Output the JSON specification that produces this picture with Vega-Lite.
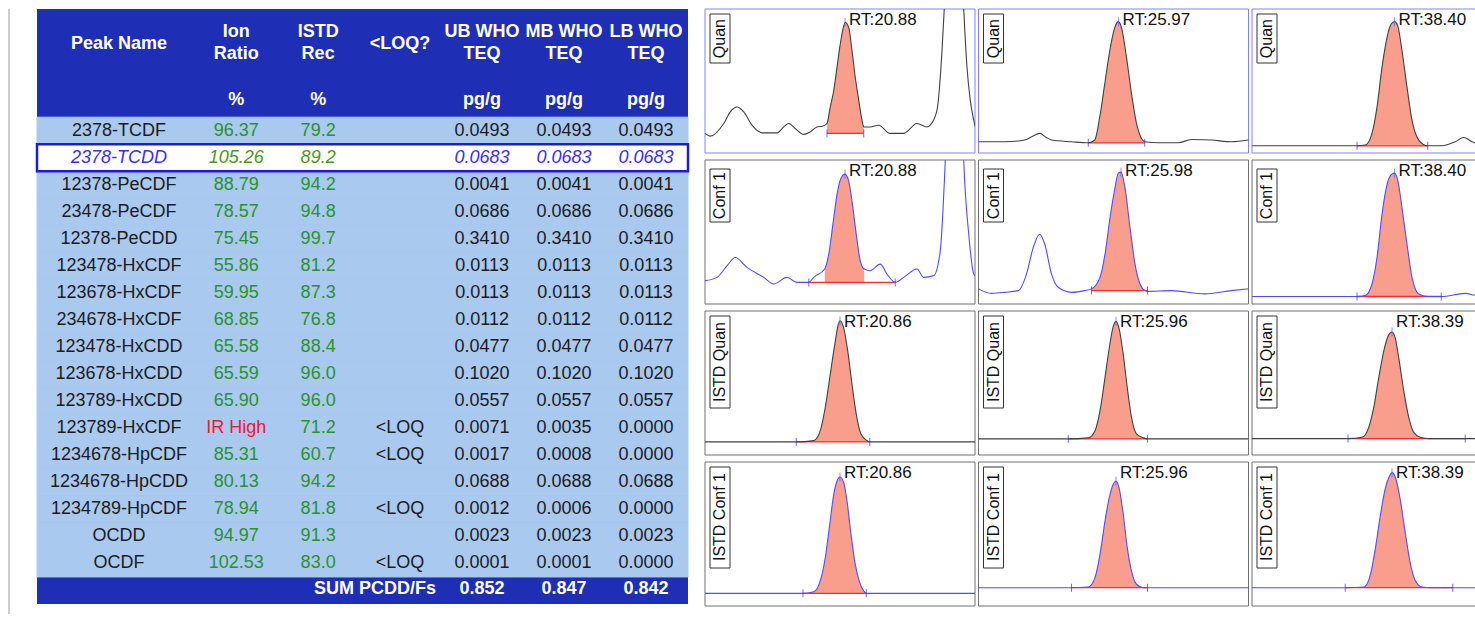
{
  "$schema": "https://vega.github.io/schema/vega-lite/v6.json",
  "background": "white",
  "padding": {"left": 8, "top": 8, "right": 0, "bottom": 0},
  "config": {"view": {"stroke": null}, "font": "Liberation Sans"},
  "datasets": {
    "rows": [
      {"name": "2378-TCDF", "ion": "96.37", "istd": "79.2", "loq": "", "ub": "0.0493", "mb": "0.0493", "lb": "0.0493"},
      {"name": "2378-TCDD", "ion": "105.26", "istd": "89.2", "loq": "", "ub": "0.0683", "mb": "0.0683", "lb": "0.0683"},
      {"name": "12378-PeCDF", "ion": "88.79", "istd": "94.2", "loq": "", "ub": "0.0041", "mb": "0.0041", "lb": "0.0041"},
      {"name": "23478-PeCDF", "ion": "78.57", "istd": "94.8", "loq": "", "ub": "0.0686", "mb": "0.0686", "lb": "0.0686"},
      {"name": "12378-PeCDD", "ion": "75.45", "istd": "99.7", "loq": "", "ub": "0.3410", "mb": "0.3410", "lb": "0.3410"},
      {"name": "123478-HxCDF", "ion": "55.86", "istd": "81.2", "loq": "", "ub": "0.0113", "mb": "0.0113", "lb": "0.0113"},
      {"name": "123678-HxCDF", "ion": "59.95", "istd": "87.3", "loq": "", "ub": "0.0113", "mb": "0.0113", "lb": "0.0113"},
      {"name": "234678-HxCDF", "ion": "68.85", "istd": "76.8", "loq": "", "ub": "0.0112", "mb": "0.0112", "lb": "0.0112"},
      {"name": "123478-HxCDD", "ion": "65.58", "istd": "88.4", "loq": "", "ub": "0.0477", "mb": "0.0477", "lb": "0.0477"},
      {"name": "123678-HxCDD", "ion": "65.59", "istd": "96.0", "loq": "", "ub": "0.1020", "mb": "0.1020", "lb": "0.1020"},
      {"name": "123789-HxCDD", "ion": "65.90", "istd": "96.0", "loq": "", "ub": "0.0557", "mb": "0.0557", "lb": "0.0557"},
      {"name": "123789-HxCDF", "ion": "IR High", "istd": "71.2", "loq": "<LOQ", "ub": "0.0071", "mb": "0.0035", "lb": "0.0000"},
      {"name": "1234678-HpCDF", "ion": "85.31", "istd": "60.7", "loq": "<LOQ", "ub": "0.0017", "mb": "0.0008", "lb": "0.0000"},
      {"name": "1234678-HpCDD", "ion": "80.13", "istd": "94.2", "loq": "", "ub": "0.0688", "mb": "0.0688", "lb": "0.0688"},
      {"name": "1234789-HpCDF", "ion": "78.94", "istd": "81.8", "loq": "<LOQ", "ub": "0.0012", "mb": "0.0006", "lb": "0.0000"},
      {"name": "OCDD", "ion": "94.97", "istd": "91.3", "loq": "", "ub": "0.0023", "mb": "0.0023", "lb": "0.0023"},
      {"name": "OCDF", "ion": "102.53", "istd": "83.0", "loq": "<LOQ", "ub": "0.0001", "mb": "0.0001", "lb": "0.0000"}
    ],
    "head": [
      {"c": "name", "row": "h2", "v": "Peak Name"},
      {"c": "ion", "row": "h2", "v": "Ion\nRatio"},
      {"c": "istd", "row": "h2", "v": "ISTD\nRec"},
      {"c": "loq", "row": "h2", "v": "<LOQ?"},
      {"c": "ub", "row": "h2", "v": "UB WHO\nTEQ"},
      {"c": "mb", "row": "h2", "v": "MB WHO\nTEQ"},
      {"c": "lb", "row": "h2", "v": "LB WHO\nTEQ"},
      {"c": "ion", "row": "h4", "v": "%"},
      {"c": "istd", "row": "h4", "v": "%"},
      {"c": "ub", "row": "h4", "v": "pg/g"},
      {"c": "mb", "row": "h4", "v": "pg/g"},
      {"c": "lb", "row": "h4", "v": "pg/g"},
      {"c": "loq", "row": "sum", "v": "SUM PCDD/Fs"},
      {"c": "ub", "row": "sum", "v": "0.852"},
      {"c": "mb", "row": "sum", "v": "0.847"},
      {"c": "lb", "row": "sum", "v": "0.842"}
    ],
    "chrom": [
      {"w":1,"tr":"Quan","t":20.32,"i":13.6},
      {"w":1,"tr":"Quan","t":20.341,"i":11.7},
      {"w":1,"tr":"Quan","t":20.395,"i":20.5},
      {"w":1,"tr":"Quan","t":20.421,"i":28.5},
      {"w":1,"tr":"Quan","t":20.448,"i":31.9},
      {"w":1,"tr":"Quan","t":20.475,"i":28.5},
      {"w":1,"tr":"Quan","t":20.508,"i":19.3},
      {"w":1,"tr":"Quan","t":20.548,"i":14},
      {"w":1,"tr":"Quan","t":20.608,"i":14},
      {"w":1,"tr":"Quan","t":20.635,"i":18.1},
      {"w":1,"tr":"Quan","t":20.655,"i":20.5},
      {"w":1,"tr":"Quan","t":20.681,"i":17},
      {"w":1,"tr":"Quan","t":20.715,"i":12.9},
      {"w":1,"tr":"Quan","t":20.741,"i":14.7},
      {"w":1,"tr":"Quan","t":20.768,"i":18.1},
      {"w":1,"tr":"Quan","t":20.79,"i":18.6},
      {"w":1,"tr":"Quan","t":20.808,"i":20.5,"b":13.6},
      {"w":1,"tr":"Quan","t":20.821,"i":31.9,"b":13.6},
      {"w":1,"tr":"Quan","t":20.835,"i":43.4,"b":13.6},
      {"w":1,"tr":"Quan","t":20.848,"i":59.5,"b":13.6},
      {"w":1,"tr":"Quan","t":20.861,"i":75.6,"b":13.6},
      {"w":1,"tr":"Quan","t":20.875,"i":88.3,"b":13.6},
      {"w":1,"tr":"Quan","t":20.881,"i":90.6,"b":13.6},
      {"w":1,"tr":"Quan","t":20.895,"i":87.1,"b":13.6},
      {"w":1,"tr":"Quan","t":20.908,"i":71,"b":13.6},
      {"w":1,"tr":"Quan","t":20.921,"i":52.6,"b":13.6},
      {"w":1,"tr":"Quan","t":20.935,"i":36.6,"b":13.6},
      {"w":1,"tr":"Quan","t":20.948,"i":22.8,"b":13.6},
      {"w":1,"tr":"Quan","t":20.955,"i":18.1,"b":13.6},
      {"w":1,"tr":"Quan","t":20.981,"i":18.1},
      {"w":1,"tr":"Quan","t":21.015,"i":19.3},
      {"w":1,"tr":"Quan","t":21.06,"i":13.6},
      {"w":1,"tr":"Quan","t":21.115,"i":13.6},
      {"w":1,"tr":"Quan","t":21.168,"i":20.5},
      {"w":1,"tr":"Quan","t":21.208,"i":18.1},
      {"w":1,"tr":"Quan","t":21.221,"i":19.3},
      {"w":1,"tr":"Quan","t":21.248,"i":29.7},
      {"w":1,"tr":"Quan","t":21.268,"i":71},
      {"w":1,"tr":"Quan","t":21.277,"i":100},
      {"w":1,"tr":"Quan","t":21.295,"i":180},
      {"w":1,"tr":"Quan","t":21.316,"i":250},
      {"w":1,"tr":"Quan","t":21.337,"i":180},
      {"w":1,"tr":"Quan","t":21.355,"i":100},
      {"w":1,"tr":"Quan","t":21.368,"i":59.5},
      {"w":1,"tr":"Quan","t":21.381,"i":36.6},
      {"w":1,"tr":"Quan","t":21.395,"i":22.8},
      {"w":1,"tr":"Quan","t":21.4,"i":18.6},

      {"w":2,"tr":"Quan","t":25.41,"i":7.8},
      {"w":2,"tr":"Quan","t":25.514,"i":7.8},
      {"w":2,"tr":"Quan","t":25.594,"i":9},
      {"w":2,"tr":"Quan","t":25.625,"i":11.5},
      {"w":2,"tr":"Quan","t":25.655,"i":13.6},
      {"w":2,"tr":"Quan","t":25.68,"i":11},
      {"w":2,"tr":"Quan","t":25.702,"i":9},
      {"w":2,"tr":"Quan","t":25.782,"i":7.8},
      {"w":2,"tr":"Quan","t":25.849,"i":7.1,"b":7.1},
      {"w":2,"tr":"Quan","t":25.875,"i":9,"b":7.1},
      {"w":2,"tr":"Quan","t":25.895,"i":25,"b":7.1},
      {"w":2,"tr":"Quan","t":25.915,"i":48,"b":7.1},
      {"w":2,"tr":"Quan","t":25.935,"i":71,"b":7.1},
      {"w":2,"tr":"Quan","t":25.955,"i":87.1,"b":7.1},
      {"w":2,"tr":"Quan","t":25.969,"i":91.2,"b":7.1},
      {"w":2,"tr":"Quan","t":25.982,"i":87.1,"b":7.1},
      {"w":2,"tr":"Quan","t":26.002,"i":66.4,"b":7.1},
      {"w":2,"tr":"Quan","t":26.022,"i":41.2,"b":7.1},
      {"w":2,"tr":"Quan","t":26.042,"i":20.5,"b":7.1},
      {"w":2,"tr":"Quan","t":26.062,"i":10.1,"b":7.1},
      {"w":2,"tr":"Quan","t":26.075,"i":7.8,"b":7.1},
      {"w":2,"tr":"Quan","t":26.129,"i":7.1},
      {"w":2,"tr":"Quan","t":26.209,"i":7.1},
      {"w":2,"tr":"Quan","t":26.262,"i":9.4},
      {"w":2,"tr":"Quan","t":26.342,"i":9},
      {"w":2,"tr":"Quan","t":26.422,"i":7.8},
      {"w":2,"tr":"Quan","t":26.49,"i":9},

      {"w":3,"tr":"Quan","t":37.83,"i":5},
      {"w":3,"tr":"Quan","t":38.0,"i":5},
      {"w":3,"tr":"Quan","t":38.25,"i":5,"b":5},
      {"w":3,"tr":"Quan","t":38.283,"i":5.5,"b":5},
      {"w":3,"tr":"Quan","t":38.31,"i":13.6,"b":5},
      {"w":3,"tr":"Quan","t":38.33,"i":31.9,"b":5},
      {"w":3,"tr":"Quan","t":38.35,"i":59.5,"b":5},
      {"w":3,"tr":"Quan","t":38.37,"i":80.2,"b":5},
      {"w":3,"tr":"Quan","t":38.386,"i":89.4,"b":5},
      {"w":3,"tr":"Quan","t":38.4,"i":91.2,"b":5},
      {"w":3,"tr":"Quan","t":38.413,"i":88.3,"b":5},
      {"w":3,"tr":"Quan","t":38.43,"i":71,"b":5},
      {"w":3,"tr":"Quan","t":38.45,"i":45.7,"b":5},
      {"w":3,"tr":"Quan","t":38.47,"i":22.8,"b":5},
      {"w":3,"tr":"Quan","t":38.497,"i":9,"b":5},
      {"w":3,"tr":"Quan","t":38.533,"i":5,"b":5},
      {"w":3,"tr":"Quan","t":38.59,"i":5},
      {"w":3,"tr":"Quan","t":38.643,"i":7.8},
      {"w":3,"tr":"Quan","t":38.677,"i":10.8},
      {"w":3,"tr":"Quan","t":38.71,"i":7.8},
      {"w":3,"tr":"Quan","t":38.73,"i":6.7},
      {"w":3,"tr":"Quan","t":38.8,"i":6},
      {"w":3,"tr":"Quan","t":38.91,"i":6},

      {"w":1,"tr":"Conf 1","t":20.32,"i":16.2},
      {"w":1,"tr":"Conf 1","t":20.368,"i":18.5},
      {"w":1,"tr":"Conf 1","t":20.41,"i":27},
      {"w":1,"tr":"Conf 1","t":20.441,"i":32.3},
      {"w":1,"tr":"Conf 1","t":20.488,"i":25.4},
      {"w":1,"tr":"Conf 1","t":20.555,"i":18.5},
      {"w":1,"tr":"Conf 1","t":20.595,"i":13.9},
      {"w":1,"tr":"Conf 1","t":20.648,"i":18.5},
      {"w":1,"tr":"Conf 1","t":20.688,"i":15},
      {"w":1,"tr":"Conf 1","t":20.735,"i":15},
      {"w":1,"tr":"Conf 1","t":20.755,"i":18.5},
      {"w":1,"tr":"Conf 1","t":20.799,"i":24.3,"b":15},
      {"w":1,"tr":"Conf 1","t":20.815,"i":34.6,"b":15},
      {"w":1,"tr":"Conf 1","t":20.835,"i":59.9,"b":15},
      {"w":1,"tr":"Conf 1","t":20.848,"i":76,"b":15},
      {"w":1,"tr":"Conf 1","t":20.864,"i":87.4,"b":15},
      {"w":1,"tr":"Conf 1","t":20.88,"i":90.2,"b":15},
      {"w":1,"tr":"Conf 1","t":20.895,"i":85.2,"b":15},
      {"w":1,"tr":"Conf 1","t":20.908,"i":71.4,"b":15},
      {"w":1,"tr":"Conf 1","t":20.925,"i":48.4,"b":15},
      {"w":1,"tr":"Conf 1","t":20.941,"i":30,"b":15},
      {"w":1,"tr":"Conf 1","t":20.957,"i":24.3,"b":15},
      {"w":1,"tr":"Conf 1","t":20.981,"i":23.1},
      {"w":1,"tr":"Conf 1","t":21.021,"i":27.7},
      {"w":1,"tr":"Conf 1","t":21.048,"i":20.8},
      {"w":1,"tr":"Conf 1","t":21.081,"i":15},
      {"w":1,"tr":"Conf 1","t":21.115,"i":18.5},
      {"w":1,"tr":"Conf 1","t":21.168,"i":24.3},
      {"w":1,"tr":"Conf 1","t":21.195,"i":18.5},
      {"w":1,"tr":"Conf 1","t":21.235,"i":19.7},
      {"w":1,"tr":"Conf 1","t":21.261,"i":36.9},
      {"w":1,"tr":"Conf 1","t":21.281,"i":99},
      {"w":1,"tr":"Conf 1","t":21.3,"i":190},
      {"w":1,"tr":"Conf 1","t":21.32,"i":250},
      {"w":1,"tr":"Conf 1","t":21.34,"i":190},
      {"w":1,"tr":"Conf 1","t":21.355,"i":99.7},
      {"w":1,"tr":"Conf 1","t":21.375,"i":48.4},
      {"w":1,"tr":"Conf 1","t":21.395,"i":20.8},
      {"w":1,"tr":"Conf 1","t":21.4,"i":19.7},

      {"w":2,"tr":"Conf 1","t":25.41,"i":10.5},
      {"w":2,"tr":"Conf 1","t":25.462,"i":7.4},
      {"w":2,"tr":"Conf 1","t":25.515,"i":8.1},
      {"w":2,"tr":"Conf 1","t":25.569,"i":9.3},
      {"w":2,"tr":"Conf 1","t":25.602,"i":20.8},
      {"w":2,"tr":"Conf 1","t":25.629,"i":39.2},
      {"w":2,"tr":"Conf 1","t":25.655,"i":48.4},
      {"w":2,"tr":"Conf 1","t":25.675,"i":41.5},
      {"w":2,"tr":"Conf 1","t":25.702,"i":20.8},
      {"w":2,"tr":"Conf 1","t":25.729,"i":11.6},
      {"w":2,"tr":"Conf 1","t":25.782,"i":8.1},
      {"w":2,"tr":"Conf 1","t":25.835,"i":9.3},
      {"w":2,"tr":"Conf 1","t":25.862,"i":10.5,"b":9.3},
      {"w":2,"tr":"Conf 1","t":25.896,"i":18.5,"b":9.3},
      {"w":2,"tr":"Conf 1","t":25.916,"i":34.6,"b":9.3},
      {"w":2,"tr":"Conf 1","t":25.936,"i":59.9,"b":9.3},
      {"w":2,"tr":"Conf 1","t":25.956,"i":80.6,"b":9.3},
      {"w":2,"tr":"Conf 1","t":25.969,"i":90.9,"b":9.3},
      {"w":2,"tr":"Conf 1","t":25.98,"i":91.6,"b":9.3},
      {"w":2,"tr":"Conf 1","t":25.996,"i":80.6,"b":9.3},
      {"w":2,"tr":"Conf 1","t":26.016,"i":53,"b":9.3},
      {"w":2,"tr":"Conf 1","t":26.036,"i":27.7,"b":9.3},
      {"w":2,"tr":"Conf 1","t":26.056,"i":13.9,"b":9.3},
      {"w":2,"tr":"Conf 1","t":26.076,"i":9.3,"b":9.3},
      {"w":2,"tr":"Conf 1","t":26.086,"i":8.8,"b":9.3},
      {"w":2,"tr":"Conf 1","t":26.182,"i":9.3},
      {"w":2,"tr":"Conf 1","t":26.315,"i":7},
      {"w":2,"tr":"Conf 1","t":26.422,"i":9.3},
      {"w":2,"tr":"Conf 1","t":26.49,"i":10.5},

      {"w":3,"tr":"Conf 1","t":37.83,"i":5.2},
      {"w":3,"tr":"Conf 1","t":38.1,"i":5.2},
      {"w":3,"tr":"Conf 1","t":38.25,"i":5.2,"b":5.2},
      {"w":3,"tr":"Conf 1","t":38.283,"i":5.9,"b":5.2},
      {"w":3,"tr":"Conf 1","t":38.31,"i":13.9,"b":5.2},
      {"w":3,"tr":"Conf 1","t":38.33,"i":32.3,"b":5.2},
      {"w":3,"tr":"Conf 1","t":38.35,"i":62.2,"b":5.2},
      {"w":3,"tr":"Conf 1","t":38.37,"i":82.9,"b":5.2},
      {"w":3,"tr":"Conf 1","t":38.387,"i":89.8,"b":5.2},
      {"w":3,"tr":"Conf 1","t":38.4,"i":90.9,"b":5.2},
      {"w":3,"tr":"Conf 1","t":38.414,"i":85.2,"b":5.2},
      {"w":3,"tr":"Conf 1","t":38.43,"i":66.8,"b":5.2},
      {"w":3,"tr":"Conf 1","t":38.45,"i":41.5,"b":5.2},
      {"w":3,"tr":"Conf 1","t":38.47,"i":18.5,"b":5.2},
      {"w":3,"tr":"Conf 1","t":38.497,"i":7,"b":5.2},
      {"w":3,"tr":"Conf 1","t":38.537,"i":5.2,"b":5.2},
      {"w":3,"tr":"Conf 1","t":38.587,"i":5.2,"b":5.2},
      {"w":3,"tr":"Conf 1","t":38.683,"i":7.4},
      {"w":3,"tr":"Conf 1","t":38.73,"i":5.9},
      {"w":3,"tr":"Conf 1","t":38.91,"i":5.9},

      {"w":1,"tr":"ISTD Quan","t":20.32,"i":9.1},
      {"w":1,"tr":"ISTD Quan","t":20.685,"i":9.1,"b":9.1},
      {"w":1,"tr":"ISTD Quan","t":20.755,"i":10,"b":9.1},
      {"w":1,"tr":"ISTD Quan","t":20.781,"i":16.9,"b":9.1},
      {"w":1,"tr":"ISTD Quan","t":20.801,"i":33,"b":9.1},
      {"w":1,"tr":"ISTD Quan","t":20.821,"i":56,"b":9.1},
      {"w":1,"tr":"ISTD Quan","t":20.839,"i":76.7,"b":9.1},
      {"w":1,"tr":"ISTD Quan","t":20.853,"i":90.5,"b":9.1},
      {"w":1,"tr":"ISTD Quan","t":20.86,"i":93.2,"b":9.1},
      {"w":1,"tr":"ISTD Quan","t":20.875,"i":88.1,"b":9.1},
      {"w":1,"tr":"ISTD Quan","t":20.891,"i":72.1,"b":9.1},
      {"w":1,"tr":"ISTD Quan","t":20.908,"i":49.1,"b":9.1},
      {"w":1,"tr":"ISTD Quan","t":20.925,"i":28.4,"b":9.1},
      {"w":1,"tr":"ISTD Quan","t":20.944,"i":14.6,"b":9.1},
      {"w":1,"tr":"ISTD Quan","t":20.968,"i":10,"b":9.1},
      {"w":1,"tr":"ISTD Quan","t":20.979,"i":9.1,"b":9.1},
      {"w":1,"tr":"ISTD Quan","t":21.4,"i":9.1},

      {"w":2,"tr":"ISTD Quan","t":25.41,"i":11.2},
      {"w":2,"tr":"ISTD Quan","t":25.769,"i":11.2,"b":11.2},
      {"w":2,"tr":"ISTD Quan","t":25.849,"i":11.9,"b":11.2},
      {"w":2,"tr":"ISTD Quan","t":25.876,"i":16.9,"b":11.2},
      {"w":2,"tr":"ISTD Quan","t":25.896,"i":30.7,"b":11.2},
      {"w":2,"tr":"ISTD Quan","t":25.916,"i":53.7,"b":11.2},
      {"w":2,"tr":"ISTD Quan","t":25.933,"i":74.3,"b":11.2},
      {"w":2,"tr":"ISTD Quan","t":25.949,"i":89.3,"b":11.2},
      {"w":2,"tr":"ISTD Quan","t":25.96,"i":92.8,"b":11.2},
      {"w":2,"tr":"ISTD Quan","t":25.972,"i":88.1,"b":11.2},
      {"w":2,"tr":"ISTD Quan","t":25.989,"i":69.8,"b":11.2},
      {"w":2,"tr":"ISTD Quan","t":26.005,"i":46.8,"b":11.2},
      {"w":2,"tr":"ISTD Quan","t":26.022,"i":26.1,"b":11.2},
      {"w":2,"tr":"ISTD Quan","t":26.042,"i":14.6,"b":11.2},
      {"w":2,"tr":"ISTD Quan","t":26.069,"i":11.9,"b":11.2},
      {"w":2,"tr":"ISTD Quan","t":26.086,"i":11.2,"b":11.2},
      {"w":2,"tr":"ISTD Quan","t":26.49,"i":11.2},

      {"w":3,"tr":"ISTD Quan","t":37.83,"i":11.4},
      {"w":3,"tr":"ISTD Quan","t":38.214,"i":11.4,"b":11.4},
      {"w":3,"tr":"ISTD Quan","t":38.27,"i":12.3,"b":11.4},
      {"w":3,"tr":"ISTD Quan","t":38.297,"i":19.2,"b":11.4},
      {"w":3,"tr":"ISTD Quan","t":38.317,"i":33,"b":11.4},
      {"w":3,"tr":"ISTD Quan","t":38.337,"i":53.7,"b":11.4},
      {"w":3,"tr":"ISTD Quan","t":38.357,"i":72.1,"b":11.4},
      {"w":3,"tr":"ISTD Quan","t":38.374,"i":82.4,"b":11.4},
      {"w":3,"tr":"ISTD Quan","t":38.39,"i":85.4,"b":11.4},
      {"w":3,"tr":"ISTD Quan","t":38.403,"i":81.2,"b":11.4},
      {"w":3,"tr":"ISTD Quan","t":38.417,"i":67.4,"b":11.4},
      {"w":3,"tr":"ISTD Quan","t":38.437,"i":44.5,"b":11.4},
      {"w":3,"tr":"ISTD Quan","t":38.457,"i":26.1,"b":11.4},
      {"w":3,"tr":"ISTD Quan","t":38.477,"i":15.7,"b":11.4},
      {"w":3,"tr":"ISTD Quan","t":38.503,"i":12.3,"b":11.4},
      {"w":3,"tr":"ISTD Quan","t":38.537,"i":11.4,"b":11.4},
      {"w":3,"tr":"ISTD Quan","t":38.683,"i":11.4,"b":11.4},
      {"w":3,"tr":"ISTD Quan","t":38.91,"i":11.4},

      {"w":1,"tr":"ISTD Conf 1","t":20.32,"i":8.8},
      {"w":1,"tr":"ISTD Conf 1","t":20.712,"i":8.8,"b":8.8},
      {"w":1,"tr":"ISTD Conf 1","t":20.755,"i":9.9,"b":8.8},
      {"w":1,"tr":"ISTD Conf 1","t":20.781,"i":17.4,"b":8.8},
      {"w":1,"tr":"ISTD Conf 1","t":20.801,"i":33.5,"b":8.8},
      {"w":1,"tr":"ISTD Conf 1","t":20.819,"i":56.7,"b":8.8},
      {"w":1,"tr":"ISTD Conf 1","t":20.835,"i":77.6,"b":8.8},
      {"w":1,"tr":"ISTD Conf 1","t":20.848,"i":86.8,"b":8.8},
      {"w":1,"tr":"ISTD Conf 1","t":20.86,"i":89.6,"b":8.8},
      {"w":1,"tr":"ISTD Conf 1","t":20.875,"i":85.6,"b":8.8},
      {"w":1,"tr":"ISTD Conf 1","t":20.888,"i":72.9,"b":8.8},
      {"w":1,"tr":"ISTD Conf 1","t":20.904,"i":49.8,"b":8.8},
      {"w":1,"tr":"ISTD Conf 1","t":20.921,"i":28.9,"b":8.8},
      {"w":1,"tr":"ISTD Conf 1","t":20.939,"i":16.2,"b":8.8},
      {"w":1,"tr":"ISTD Conf 1","t":20.955,"i":10.4,"b":8.8},
      {"w":1,"tr":"ISTD Conf 1","t":20.965,"i":8.8,"b":8.8},
      {"w":1,"tr":"ISTD Conf 1","t":21.4,"i":8.8},

      {"w":2,"tr":"ISTD Conf 1","t":25.41,"i":12.7},
      {"w":2,"tr":"ISTD Conf 1","t":25.782,"i":12.7,"b":12.7},
      {"w":2,"tr":"ISTD Conf 1","t":25.849,"i":13.2,"b":12.7},
      {"w":2,"tr":"ISTD Conf 1","t":25.876,"i":19.7,"b":12.7},
      {"w":2,"tr":"ISTD Conf 1","t":25.896,"i":35.9,"b":12.7},
      {"w":2,"tr":"ISTD Conf 1","t":25.916,"i":59,"b":12.7},
      {"w":2,"tr":"ISTD Conf 1","t":25.933,"i":75.2,"b":12.7},
      {"w":2,"tr":"ISTD Conf 1","t":25.949,"i":84.5,"b":12.7},
      {"w":2,"tr":"ISTD Conf 1","t":25.96,"i":86.8,"b":12.7},
      {"w":2,"tr":"ISTD Conf 1","t":25.972,"i":82.2,"b":12.7},
      {"w":2,"tr":"ISTD Conf 1","t":25.989,"i":63.7,"b":12.7},
      {"w":2,"tr":"ISTD Conf 1","t":26.005,"i":40.5,"b":12.7},
      {"w":2,"tr":"ISTD Conf 1","t":26.022,"i":24.3,"b":12.7},
      {"w":2,"tr":"ISTD Conf 1","t":26.042,"i":15.1,"b":12.7},
      {"w":2,"tr":"ISTD Conf 1","t":26.069,"i":12.7,"b":12.7},
      {"w":2,"tr":"ISTD Conf 1","t":26.086,"i":12.7,"b":12.7},
      {"w":2,"tr":"ISTD Conf 1","t":26.49,"i":12.7},

      {"w":3,"tr":"ISTD Conf 1","t":37.83,"i":12.7},
      {"w":3,"tr":"ISTD Conf 1","t":38.203,"i":12.7,"b":12.7},
      {"w":3,"tr":"ISTD Conf 1","t":38.277,"i":13.2,"b":12.7},
      {"w":3,"tr":"ISTD Conf 1","t":38.304,"i":22,"b":12.7},
      {"w":3,"tr":"ISTD Conf 1","t":38.324,"i":40.5,"b":12.7},
      {"w":3,"tr":"ISTD Conf 1","t":38.344,"i":63.7,"b":12.7},
      {"w":3,"tr":"ISTD Conf 1","t":38.364,"i":82.2,"b":12.7},
      {"w":3,"tr":"ISTD Conf 1","t":38.38,"i":90.3,"b":12.7},
      {"w":3,"tr":"ISTD Conf 1","t":38.39,"i":92.6,"b":12.7},
      {"w":3,"tr":"ISTD Conf 1","t":38.404,"i":89.1,"b":12.7},
      {"w":3,"tr":"ISTD Conf 1","t":38.424,"i":72.9,"b":12.7},
      {"w":3,"tr":"ISTD Conf 1","t":38.444,"i":49.8,"b":12.7},
      {"w":3,"tr":"ISTD Conf 1","t":38.464,"i":28.9,"b":12.7},
      {"w":3,"tr":"ISTD Conf 1","t":38.484,"i":17.4,"b":12.7},
      {"w":3,"tr":"ISTD Conf 1","t":38.51,"i":13.2,"b":12.7},
      {"w":3,"tr":"ISTD Conf 1","t":38.544,"i":12.7,"b":12.7},
      {"w":3,"tr":"ISTD Conf 1","t":38.633,"i":12.7,"b":12.7},
      {"w":3,"tr":"ISTD Conf 1","t":38.91,"i":12.7},

      {"w":1,"tr":"Quan","k":"info","lab":"RT:20.88","rt":20.88,"ia":90.6,"ts":20.808,"te":20.955,"b":13.6},
      {"w":2,"tr":"Quan","k":"info","lab":"RT:25.97","rt":25.97,"ia":91.2,"ts":25.849,"te":26.075,"b":7.1},
      {"w":3,"tr":"Quan","k":"info","lab":"RT:38.40","rt":38.4,"ia":91.2,"ts":38.25,"te":38.533,"b":5},
      {"w":1,"tr":"Conf 1","k":"info","lab":"RT:20.88","rt":20.88,"ia":90.2,"ts":20.735,"te":21.081,"b":15},
      {"w":2,"tr":"Conf 1","k":"info","lab":"RT:25.98","rt":25.98,"ia":91.6,"ts":25.862,"te":26.086,"b":9.3},
      {"w":3,"tr":"Conf 1","k":"info","lab":"RT:38.40","rt":38.4,"ia":90.9,"ts":38.25,"te":38.587,"b":5.2},
      {"w":1,"tr":"ISTD Quan","k":"info","lab":"RT:20.86","rt":20.86,"ia":93.2,"ts":20.685,"te":20.979,"b":9.1},
      {"w":2,"tr":"ISTD Quan","k":"info","lab":"RT:25.96","rt":25.96,"ia":92.8,"ts":25.769,"te":26.086,"b":11.2},
      {"w":3,"tr":"ISTD Quan","k":"info","lab":"RT:38.39","rt":38.39,"ia":85.4,"ts":38.214,"te":38.683,"b":11.4},
      {"w":1,"tr":"ISTD Conf 1","k":"info","lab":"RT:20.86","rt":20.86,"ia":89.6,"ts":20.712,"te":20.965,"b":8.8},
      {"w":2,"tr":"ISTD Conf 1","k":"info","lab":"RT:25.96","rt":25.96,"ia":86.8,"ts":25.782,"te":26.086,"b":12.7},
      {"w":3,"tr":"ISTD Conf 1","k":"info","lab":"RT:38.39","rt":38.39,"ia":92.6,"ts":38.203,"te":38.633,"b":12.7}
    ]
  },
  "spacing": 14,
  "hconcat": [
    {
      "spacing": 27,
      "bounds": "flush",
      "hconcat": [
        {
          "width": 2,
          "height": 605,
          "data": {"values": [{"edge": "left"}]},
          "mark": {"type": "rect", "color": "#cccccc"},
          "encoding": {}
        },
        {
          "width": 651,
          "height": 595,
          "view": {"fill": "#1f2fb5", "stroke": null},
          "layer": [
            {
              "data": {"name": "rows"},
              "mark": {"type": "rect", "strokeWidth": 1},
              "encoding": {
                "y": {"field": "name", "type": "nominal", "axis": null,
                      "scale": {"type": "band", "paddingInner": 0, "paddingOuter": 0,
                                "domain": ["h1","h2","h3","h4","2378-TCDF","2378-TCDD","12378-PeCDF","23478-PeCDF","12378-PeCDD","123478-HxCDF","123678-HxCDF","234678-HxCDF","123478-HxCDD","123678-HxCDD","123789-HxCDD","123789-HxCDF","1234678-HpCDF","1234678-HpCDD","1234789-HpCDF","OCDD","OCDF","sum"]}},
                "fill": {"condition": {"test": "datum.name === '2378-TCDD'", "value": "#ffffff"}, "value": "#a9c9ef"},
                "stroke": {"condition": {"test": "datum.name === '2378-TCDD'", "value": "#ffffff"}, "value": "#a9c9ef"}
              }
            },
            {
              "data": {"name": "rows"},
              "transform": [{"filter": "datum.name === '2378-TCDD'"}],
              "mark": {"type": "rect", "filled": false, "stroke": "#1c1cd8", "strokeWidth": 2.5},
              "encoding": {"y": {"field": "name", "type": "nominal", "axis": null}}
            },
            {
              "data": {"name": "rows"},
              "transform": [{"filter": "datum.name !== '2378-TCDD'"}],
              "mark": {"type": "text", "fontSize": 18, "dx": -35.2, "color": "#1c1c1c"},
              "encoding": {
                "x": {"datum": "name", "type": "nominal", "axis": null},
                "y": {"field": "name", "type": "nominal", "axis": null},
                "text": {"field": "name"}
              }
            },
            {
              "data": {"name": "rows"},
              "transform": [{"filter": "datum.name === '2378-TCDD'"}],
              "mark": {"type": "text", "fontSize": 18, "dx": -35.2, "fontStyle": "italic", "color": "#3a2eff"},
              "encoding": {
                "x": {"datum": "name", "type": "nominal", "axis": null},
                "y": {"field": "name", "type": "nominal", "axis": null},
                "text": {"field": "name"}
              }
            },
            {
              "data": {"name": "rows"},
              "transform": [
                {"fold": ["ion","istd","loq","ub","mb","lb"], "as": ["c","v"]},
                {"filter": "datum.v !== '' && datum.name !== '2378-TCDD'"}
              ],
              "mark": {"type": "text", "fontSize": 18},
              "encoding": {
                "x": {"field": "c", "type": "nominal", "axis": null,
                      "scale": {"type": "point", "domain": ["name","ion","istd","loq","ub","mb","lb"], "range": [117.2, 609], "padding": 0}},
                "y": {"field": "name", "type": "nominal", "axis": null},
                "text": {"field": "v"},
                "color": {"condition": [
                    {"test": "datum.v === 'IR High'", "value": "#f0182e"},
                    {"test": "datum.c === 'ion' || datum.c === 'istd'", "value": "#2a922a"}
                  ], "value": "#1c1c1c"}
              }
            },
            {
              "data": {"name": "rows"},
              "transform": [
                {"fold": ["ion","istd","loq","ub","mb","lb"], "as": ["c","v"]},
                {"filter": "datum.v !== '' && datum.name === '2378-TCDD'"}
              ],
              "mark": {"type": "text", "fontSize": 18, "fontStyle": "italic"},
              "encoding": {
                "x": {"field": "c", "type": "nominal", "axis": null},
                "y": {"field": "name", "type": "nominal", "axis": null},
                "text": {"field": "v"},
                "color": {"condition": {"test": "datum.c === 'ion' || datum.c === 'istd'", "value": "#4f961a"}, "value": "#3a2eff"}
              }
            },
            {
              "data": {"name": "head"},
              "transform": [{"filter": "datum.row === 'h2' && datum.c !== 'name' && datum.c !== 'loq'"}],
              "mark": {"type": "text", "fontSize": 18, "fontWeight": "bold", "color": "#ffffff", "lineBreak": "\n", "lineHeight": 22, "dy": -18},
              "encoding": {
                "x": {"field": "c", "type": "nominal", "axis": null},
                "y": {"field": "row", "type": "nominal", "axis": null},
                "text": {"field": "v"}
              }
            },
            {
              "data": {"name": "head"},
              "transform": [{"filter": "datum.row === 'h2' && datum.c === 'loq'"}],
              "mark": {"type": "text", "fontSize": 18, "fontWeight": "bold", "color": "#ffffff", "dy": -6},
              "encoding": {
                "x": {"field": "c", "type": "nominal", "axis": null},
                "y": {"field": "row", "type": "nominal", "axis": null},
                "text": {"field": "v"}
              }
            },
            {
              "data": {"name": "head"},
              "transform": [{"filter": "datum.row === 'h4'"}],
              "mark": {"type": "text", "fontSize": 18, "fontWeight": "bold", "color": "#ffffff", "dy": -4},
              "encoding": {
                "x": {"field": "c", "type": "nominal", "axis": null},
                "y": {"field": "row", "type": "nominal", "axis": null},
                "text": {"field": "v"}
              }
            },
            {
              "data": {"name": "head"},
              "transform": [{"filter": "datum.row === 'sum' && datum.c !== 'loq'"}],
              "mark": {"type": "text", "fontSize": 18, "fontWeight": "bold", "color": "#ffffff", "dy": -1},
              "encoding": {
                "x": {"field": "c", "type": "nominal", "axis": null},
                "y": {"field": "row", "type": "nominal", "axis": null},
                "text": {"field": "v"}
              }
            },
            {
              "data": {"name": "head"},
              "transform": [{"filter": "datum.c === 'name'"}],
              "mark": {"type": "text", "fontSize": 18, "fontWeight": "bold", "color": "#ffffff", "dx": -35.2, "dy": -6},
              "encoding": {
                "x": {"field": "c", "type": "nominal", "axis": null},
                "y": {"field": "row", "type": "nominal", "axis": null},
                "text": {"field": "v"}
              }
            },
            {
              "data": {"name": "head"},
              "transform": [{"filter": "datum.row === 'sum' && datum.c === 'loq'"}],
              "mark": {"type": "text", "fontSize": 18, "fontWeight": "bold", "color": "#ffffff", "align": "right", "dx": 36, "dy": -1},
              "encoding": {
                "x": {"field": "c", "type": "nominal", "axis": null},
                "y": {"field": "row", "type": "nominal", "axis": null},
                "text": {"field": "v"}
              }
            }
          ]
        }
      ]
    },
    {
      "data": {"name": "chrom"},
      "bounds": "flush",
      "spacing": {"row": 7, "column": 3.5},
      "facet": {
        "row": {"field": "tr", "type": "nominal", "sort": ["Quan","Conf 1","ISTD Quan","ISTD Conf 1"], "header": null},
        "column": {"field": "w", "type": "ordinal", "header": null}
      },
      "resolve": {"scale": {"x": "independent"}},
      "spec": {
        "width": 270,
        "height": 144,
        "layer": [
          {
            "transform": [{"filter": "datum.k === 'info'"}],
            "mark": {"type": "rect", "fill": "#ffffff", "strokeWidth": 1},
            "encoding": {
              "y": {"datum": 0, "type": "quantitative", "axis": null, "scale": {"domain": [0, 100]}},
              "y2": {"datum": 100},
              "stroke": {"condition": {"test": "datum.tr === 'Quan'", "value": "#8282ff"}, "value": "#707070"}
            }
          },
          {
            "transform": [{"filter": "datum.k !== 'info' && isValid(datum.b)"}],
            "mark": {"type": "area", "interpolate": "monotone", "clip": true, "color": "#f99e8c"},
            "encoding": {
              "x": {"field": "t", "type": "quantitative", "axis": null, "scale": {"nice": false, "zero": false}},
              "y": {"field": "i", "type": "quantitative", "axis": null, "scale": {"domain": [0, 100]}},
              "y2": {"field": "b"}
            }
          },
          {
            "transform": [{"filter": "datum.k === 'info'"}],
            "mark": {"type": "rule", "color": "#ff2a2a", "strokeWidth": 1.3},
            "encoding": {
              "x": {"field": "ts", "type": "quantitative", "axis": null},
              "x2": {"field": "te"},
              "y": {"field": "b", "type": "quantitative", "axis": null, "scale": {"domain": [0, 100]}}
            }
          },
          {
            "transform": [{"filter": "datum.k !== 'info'"}],
            "mark": {"type": "line", "interpolate": "monotone", "clip": true, "strokeWidth": 1.1},
            "encoding": {
              "x": {"field": "t", "type": "quantitative", "axis": null, "scale": {"nice": false, "zero": false}},
              "y": {"field": "i", "type": "quantitative", "axis": null, "scale": {"domain": [0, 100]}},
              "color": {"condition": {"test": "indexof(datum.tr, 'Conf') >= 0", "value": "#4d4dff"}, "value": "#404040"}
            }
          },
          {
            "transform": [{"filter": "datum.k === 'info'"}],
            "mark": {"type": "tick", "orient": "vertical", "color": "#2b2bff", "thickness": 1, "size": 8},
            "encoding": {
              "x": {"field": "ts", "type": "quantitative", "axis": null},
              "y": {"field": "b", "type": "quantitative", "axis": null, "scale": {"domain": [0, 100]}}
            }
          },
          {
            "transform": [{"filter": "datum.k === 'info'"}],
            "mark": {"type": "tick", "orient": "vertical", "color": "#2b2bff", "thickness": 1, "size": 8},
            "encoding": {
              "x": {"field": "te", "type": "quantitative", "axis": null},
              "y": {"field": "b", "type": "quantitative", "axis": null, "scale": {"domain": [0, 100]}}
            }
          },
          {
            "transform": [{"filter": "datum.k === 'info'"}],
            "mark": {"type": "tick", "orient": "vertical", "color": "#5a5aff", "thickness": 1, "size": 9},
            "encoding": {
              "x": {"field": "rt", "type": "quantitative", "axis": null},
              "y": {"field": "ia", "type": "quantitative", "axis": null, "scale": {"domain": [0, 100]}}
            }
          },
          {
            "transform": [{"filter": "datum.k === 'info'"}],
            "mark": {"type": "text", "fontSize": 17, "color": "#111111", "align": "left", "baseline": "middle", "dx": 4, "dy": 11},
            "encoding": {
              "x": {"field": "rt", "type": "quantitative", "axis": null},
              "y": {"datum": 100, "type": "quantitative", "axis": null, "scale": {"domain": [0, 100]}},
              "text": {"field": "lab"}
            }
          },
          {
            "transform": [{"filter": "datum.k === 'info' && datum.tr === 'Quan'"}],
            "layer": [
              {"mark": {"type": "rect", "fill": "#ffffff", "stroke": "#333333", "strokeWidth": 1},
               "encoding": {"x": {"value": 5}, "x2": {"value": 25}, "y": {"value": 5}, "y2": {"value": 54}}},
              {"mark": {"type": "text", "fontSize": 16, "color": "#111111", "angle": 270, "align": "right", "baseline": "middle"},
               "encoding": {"x": {"value": 15}, "y": {"value": 10}, "text": {"field": "tr"}}}
            ]
          },
          {
            "transform": [{"filter": "datum.k === 'info' && datum.tr === 'Conf 1'"}],
            "layer": [
              {"mark": {"type": "rect", "fill": "#ffffff", "stroke": "#333333", "strokeWidth": 1},
               "encoding": {"x": {"value": 5}, "x2": {"value": 25}, "y": {"value": 9}, "y2": {"value": 62}}},
              {"mark": {"type": "text", "fontSize": 16, "color": "#111111", "angle": 270, "align": "right", "baseline": "middle"},
               "encoding": {"x": {"value": 15}, "y": {"value": 12}, "text": {"field": "tr"}}}
            ]
          },
          {
            "transform": [{"filter": "datum.k === 'info' && datum.tr === 'ISTD Quan'"}],
            "layer": [
              {"mark": {"type": "rect", "fill": "#ffffff", "stroke": "#333333", "strokeWidth": 1},
               "encoding": {"x": {"value": 5}, "x2": {"value": 25}, "y": {"value": 5}, "y2": {"value": 97}}},
              {"mark": {"type": "text", "fontSize": 16, "color": "#111111", "angle": 270, "align": "right", "baseline": "middle"},
               "encoding": {"x": {"value": 15}, "y": {"value": 11}, "text": {"field": "tr"}}}
            ]
          },
          {
            "transform": [{"filter": "datum.k === 'info' && datum.tr === 'ISTD Conf 1'"}],
            "layer": [
              {"mark": {"type": "rect", "fill": "#ffffff", "stroke": "#333333", "strokeWidth": 1},
               "encoding": {"x": {"value": 5}, "x2": {"value": 25}, "y": {"value": 5}, "y2": {"value": 106}}},
              {"mark": {"type": "text", "fontSize": 16, "color": "#111111", "angle": 270, "align": "right", "baseline": "middle"},
               "encoding": {"x": {"value": 15}, "y": {"value": 11}, "text": {"field": "tr"}}}
            ]
          }
        ]
      }
    }
  ]
}
